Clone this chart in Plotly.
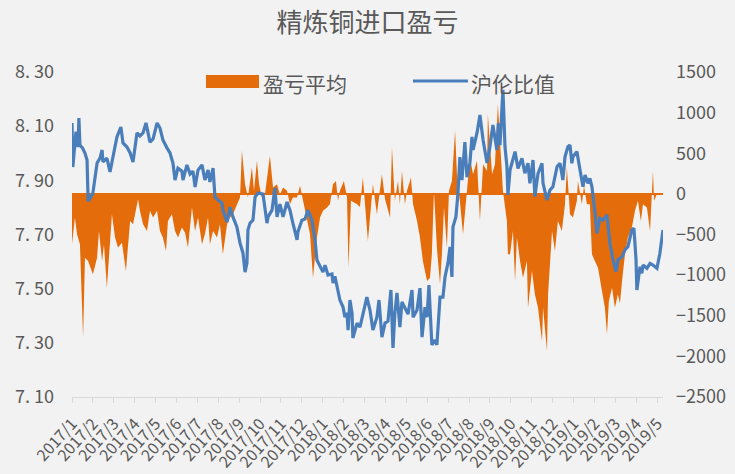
import plotly.graph_objects as go

# x positions are months since 2017/1 (0 = 2017/1, 28 = 2019/5)
month_labels = ["2017/1", "2017/2", "2017/3", "2017/4", "2017/5", "2017/6", "2017/7", "2017/8",
                "2017/9", "2017/10", "2017/11", "2017/12", "2018/1", "2018/2", "2018/3", "2018/4",
                "2018/5", "2018/6", "2018/7", "2018/8", "2018/9", "2018/10", "2018/11", "2018/12",
                "2019/1", "2019/2", "2019/3", "2019/4", "2019/5"]

# 沪伦比值 (left axis)
ratio_t = [0.00, 0.04, 0.19, 0.29, 0.33, 0.38, 0.50, 0.62, 0.72, 0.77, 0.81, 1.00, 1.20, 1.34, 1.44,
           1.48, 1.67, 1.82, 1.96, 2.15, 2.34, 2.44, 2.63, 2.78, 2.92, 3.11, 3.25, 3.40, 3.54, 3.73,
           3.88, 4.07, 4.21, 4.35, 4.55, 4.69, 4.83, 4.93, 5.07, 5.26, 5.31, 5.50, 5.65, 5.79, 5.89,
           6.03, 6.22, 6.36, 6.51, 6.60, 6.75, 6.84, 6.99, 7.18, 7.22, 7.42, 7.56, 7.70, 7.89, 8.04,
           8.18, 8.28, 8.37, 8.42, 8.52, 8.66, 8.76, 8.90, 9.14, 9.33, 9.38, 9.57, 9.71, 9.81, 9.95,
           10.10, 10.29, 10.43, 10.57, 10.77, 10.81, 11.00, 11.15, 11.29, 11.48, 11.63, 11.72, 11.87,
           12.01, 12.11, 12.25, 12.44, 12.49, 12.58, 12.73, 12.82, 12.97, 13.06, 13.16, 13.21, 13.30,
           13.40, 13.44, 13.64, 13.78, 13.92, 14.11, 14.26, 14.40, 14.59, 14.69, 14.83, 14.98, 15.12,
           15.26, 15.36, 15.45, 15.55, 15.69, 15.79, 15.93, 16.08, 16.27, 16.32, 16.51, 16.65, 16.75,
           16.89, 16.99, 17.08, 17.22, 17.37, 17.46, 17.61, 17.75, 17.85, 17.99, 18.09, 18.18, 18.23,
           18.37, 18.47, 18.56, 18.66, 18.80, 18.90, 19.04, 19.14, 19.19, 19.38, 19.52, 19.67, 19.86,
           20.00, 20.14, 20.33, 20.40, 20.48, 20.62, 20.72, 20.81, 20.86, 20.96, 21.10, 21.20, 21.34,
           21.53, 21.67, 21.82, 21.91, 22.06, 22.15, 22.30, 22.49, 22.54, 22.73, 22.87, 23.01, 23.21,
           23.35, 23.49, 23.59, 23.73, 23.83, 23.92, 23.97, 24.16, 24.31, 24.45, 24.55, 24.69, 24.78,
           24.88, 25.02, 25.12, 25.26, 25.41, 25.60, 25.74, 25.89, 26.03, 26.12, 26.32, 26.46, 26.60,
           26.79, 26.89, 26.99, 27.03, 27.18, 27.27, 27.32, 27.51, 27.66, 27.80, 27.99, 28.13, 28.28]
ratio_v = [8.112, 7.949, 8.080, 8.023, 8.130, 8.030, 8.020, 8.001, 7.975, 7.827, 7.827, 7.853, 7.964,
           7.982, 8.012, 7.968, 7.982, 7.931, 7.986, 8.060, 8.097, 8.038, 8.023, 8.001, 7.968, 8.075,
           8.064, 8.075, 8.112, 8.041, 8.053, 8.112, 8.093, 8.049, 8.019, 8.001, 7.964, 7.901, 7.945,
           7.934, 7.901, 7.957, 7.923, 7.934, 7.875, 7.938, 7.957, 7.901, 7.938, 7.894, 7.945, 7.838,
           7.827, 7.816, 7.790, 7.746, 7.801, 7.765, 7.728, 7.668, 7.632, 7.561, 7.595, 7.717, 7.742,
           7.753, 7.838, 7.853, 7.849, 7.742, 7.765, 7.790, 7.872, 7.765, 7.812, 7.765, 7.820, 7.790,
           7.742, 7.680, 7.710, 7.753, 7.757, 7.790, 7.753, 7.680, 7.606, 7.584, 7.561, 7.587, 7.550,
           7.554, 7.521, 7.546, 7.495, 7.458, 7.432, 7.395, 7.410, 7.347, 7.458, 7.410, 7.318, 7.373,
           7.358, 7.410, 7.469, 7.420, 7.347, 7.395, 7.458, 7.321, 7.373, 7.380, 7.495, 7.281, 7.410,
           7.484, 7.358, 7.451, 7.432, 7.406, 7.495, 7.395, 7.421, 7.502, 7.321, 7.432, 7.395, 7.513,
           7.292, 7.310, 7.292, 7.469, 7.469, 7.543, 7.595, 7.654, 7.543, 7.728, 7.765, 7.853, 7.986,
           7.901, 8.041, 7.912, 7.964, 8.060, 8.012, 8.075, 8.141, 8.049, 7.964, 8.024, 8.104, 8.012,
           8.110, 8.030, 8.234, 8.023, 7.953, 7.846, 7.938, 7.975, 8.006, 7.944, 7.981, 7.926, 7.963,
           7.889, 7.975, 7.840, 7.926, 7.963, 7.889, 7.827, 7.864, 7.876, 7.950, 7.963, 7.901, 7.987,
           8.024, 8.030, 7.963, 7.987, 8.006, 7.938, 7.876, 7.920, 7.889, 7.907, 7.876, 7.784, 7.704,
           7.760, 7.753, 7.772, 7.667, 7.606, 7.563, 7.606, 7.618, 7.643, 7.655, 7.717, 7.723, 7.606,
           7.495, 7.581, 7.557, 7.587, 7.575, 7.593, 7.587, 7.575, 7.630, 7.717]

# 盈亏平均 (right axis)
pnl_t = [0.00, 0.14, 0.24, 0.38, 0.53, 0.62, 0.77, 1.00, 1.20, 1.29, 1.44, 1.53, 1.67, 1.82, 1.91,
         2.06, 2.20, 2.39, 2.58, 2.78, 2.92, 3.16, 3.25, 3.40, 3.59, 3.73, 3.88, 4.07, 4.21, 4.35,
         4.50, 4.59, 4.78, 4.93, 5.07, 5.26, 5.41, 5.55, 5.74, 5.89, 6.03, 6.22, 6.36, 6.51, 6.60,
         6.75, 6.94, 7.08, 7.22, 7.42, 7.56, 7.70, 7.89, 8.04, 8.13, 8.28, 8.42, 8.61, 8.71, 8.85,
         8.95, 9.09, 9.23, 9.33, 9.47, 9.62, 9.81, 9.95, 10.10, 10.29, 10.43, 10.57, 10.77, 10.91,
         11.05, 11.24, 11.39, 11.53, 11.72, 11.87, 12.01, 12.20, 12.34, 12.49, 12.63, 12.73, 12.82,
         13.01, 13.16, 13.23, 13.35, 13.64, 13.78, 13.92, 14.16, 14.40, 14.59, 14.83, 14.98, 15.22,
         15.31, 15.45, 15.60, 15.69, 15.79, 15.93, 16.03, 16.22, 16.32, 16.51, 16.65, 16.79, 16.99,
         17.13, 17.22, 17.32, 17.46, 17.61, 17.70, 17.80, 17.94, 18.04, 18.18, 18.33, 18.42, 18.56,
         18.71, 18.90, 19.04, 19.19, 19.38, 19.52, 19.67, 19.86, 19.90, 20.10, 20.24, 20.38, 20.57,
         20.62, 20.81, 20.86, 20.96, 21.05, 21.10, 21.20, 21.29, 21.44, 21.58, 21.77, 21.82, 22.01,
         22.15, 22.30, 22.49, 22.54, 22.73, 22.78, 22.97, 23.11, 23.25, 23.44, 23.59, 23.68, 23.83,
         23.97, 24.16, 24.21, 24.40, 24.50, 24.64, 24.78, 24.88, 25.02, 25.17, 25.36, 25.50, 25.60,
         25.69, 25.84, 25.98, 26.12, 26.22, 26.32, 26.46, 26.60, 26.79, 26.94, 27.08, 27.22, 27.32,
         27.51, 27.66, 27.80, 27.85, 27.99]
pnl_v = [-620, -292, -497, -620, -1770, -785, -825, -990, -785, -456, -825, -620, -1154, -620, -250,
         -538, -661, -600, -949, -333, -374, -66, -209, -374, -456, -209, -292, -209, -456, -538,
         -702, -333, -250, -456, -538, -415, -477, -661, -168, -456, -292, -620, -497, -292, -620,
         -456, -538, -374, -744, -374, -292, -250, -127, -45, 530, 119, -45, 324, 37, 407,
         119, -45, -10, 201, 468, 78, 119, -10, 78, 37, -127, -45, -45, 99,
         -86, -292, -497, -1031, -538, -292, -209, -168, -127, 119, 160, -86, 37,
         160, -45, -908, -86, -127, -160, 201, -579, 119, -250, 242, -66, -292,
         571, -86, 160, -127, 283, -127, 37, 201, -127, -333, -538, -825, -1072,
         -1031, -744, 37, -661, -1113, -744, -168, -661, 37, 160, 776, 242, -86,
         -497, 37, 447, 242, 407, -333, 366, 283, 982, 242, 366, 1105, 366,
         37, -333, -744, -744, -538, -456, -1072, -538, -825, -1031, -825, -1401, -949,
         -1236, -1401, -1811, -1401, -1934, -1236, -456, -702, -333, -456, -127, 324, -250,
         -292, -86, 160, -127, 99, -127, -127, -744, -825, -908, -1195, -1401, -1729,
         -1318, -1154, -1401, -1236, -1350, -1072, -744, -538, -415, -209, -86, -333, -127,
         -168, -456, 283, -86, 0]

left_ticks = [7.10, 7.30, 7.50, 7.70, 7.90, 8.10, 8.30]
left_ticktext = ["7. 10", "7. 30", "7. 50", "7. 70", "7. 90", "8. 10", "8. 30"]
right_ticks = [-2500, -2000, -1500, -1000, -500, 0, 500, 1000, 1500]

ORANGE = "#E46C0A"
BLUE = "#4A7EBB"
TXT = "#595959"
FONT = "Noto Sans CJK SC"

fig = go.Figure()
fig.add_trace(go.Scatter(x=pnl_t, y=pnl_v, name="盈亏平均", mode="lines", fill="tozeroy",
                         line=dict(width=0, color=ORANGE), fillcolor=ORANGE, yaxis="y",
                         showlegend=False))
fig.add_trace(go.Scatter(x=ratio_t, y=ratio_v, name="沪伦比值", mode="lines",
                         line=dict(width=3.2, color=BLUE), yaxis="y2", showlegend=False))

fig.update_layout(
    width=735, height=474,
    margin=dict(l=72, r=72, t=72, b=77, autoexpand=False),
    paper_bgcolor="#F2F2F2", plot_bgcolor="#F2F2F2",
    font=dict(family=FONT, color=TXT),
    title=dict(text="精炼铜进口盈亏", x=0.5, xanchor="center", y=0.951, yanchor="middle",
               yref="container", font=dict(size=26, color=TXT, family=FONT)),
    xaxis=dict(range=[0, 28.28], tickvals=list(range(len(month_labels))), ticktext=month_labels,
               tickangle=-48, tickfont=dict(size=16, color=TXT), showgrid=False, zeroline=False,
               showline=True, linecolor="#D9D9D9", linewidth=1, ticks="outside", ticklen=5,
               tickcolor="#D9D9D9", automargin=False, ticklabelstandoff=5),
    yaxis=dict(range=[-2500, 1500], tickvals=right_ticks, side="right", showgrid=False,
               zeroline=True, zerolinecolor=ORANGE, zerolinewidth=1.5, automargin=False,
               tickfont=dict(size=18, color=TXT), ticklabelstandoff=12),
    yaxis2=dict(range=[7.10, 8.30], tickvals=left_ticks, ticktext=left_ticktext, side="left",
                overlaying="y", showgrid=False, zeroline=False, automargin=False,
                tickfont=dict(size=18, color=TXT), ticklabelstandoff=17),
    showlegend=False,
)

# legend drawn as shapes + text
fig.add_shape(type="rect", xref="paper", yref="paper", x0=0.2267, x1=0.3164, y0=0.9508, y1=0.9908,
              fillcolor=ORANGE, line=dict(width=0))
fig.add_annotation(text="盈亏平均", xref="paper", yref="paper", x=0.320, y=0.966,
                   xanchor="left", yanchor="middle", showarrow=False,
                   font=dict(size=21, color=TXT, family=FONT))
fig.add_shape(type="line", xref="paper", yref="paper", x0=0.577, x1=0.670, y0=0.9723, y1=0.9723,
              line=dict(width=3, color=BLUE))
fig.add_annotation(text="沪伦比值", xref="paper", yref="paper", x=0.672, y=0.966,
                   xanchor="left", yanchor="middle", showarrow=False,
                   font=dict(size=21, color=TXT, family=FONT))

fig.write_html("out.html", config={"displayModeBar": False},
               post_script="document.body.style.margin='0px';document.body.style.overflow='hidden';")
